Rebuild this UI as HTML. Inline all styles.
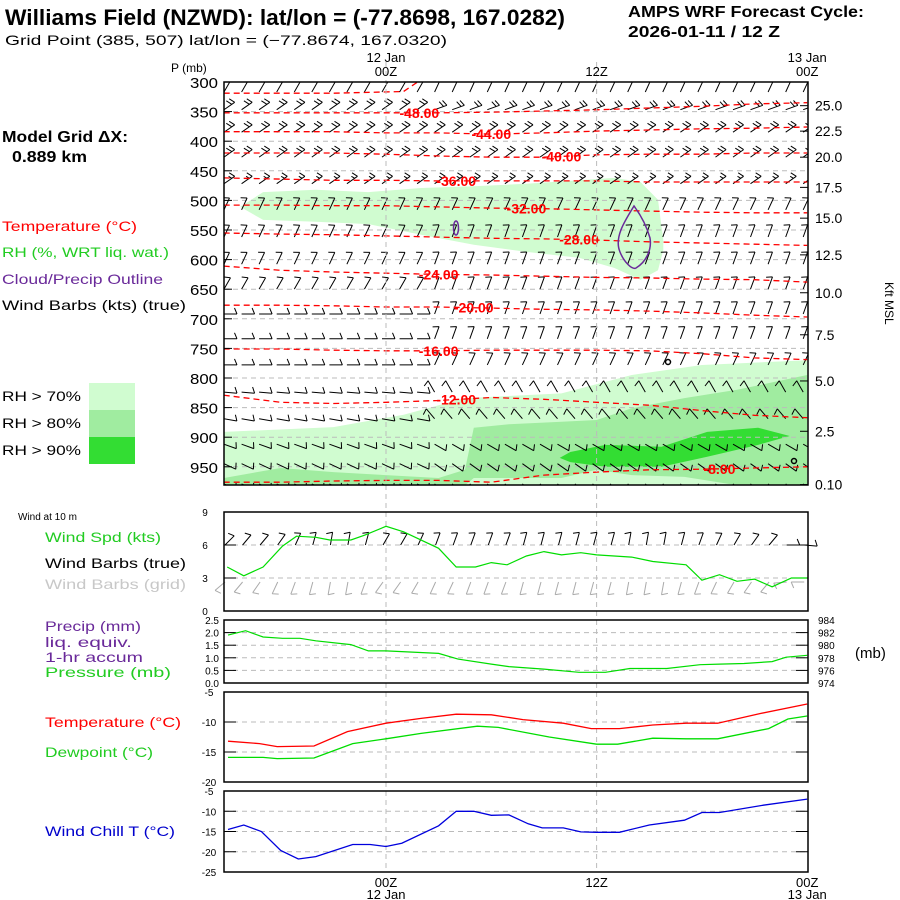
<!DOCTYPE html>
<html><head><meta charset="utf-8"><title>AMPS Meteogram Williams Field</title>
<style>
html,body{margin:0;padding:0;background:#fff;}
svg{display:block;font-family:"Liberation Sans","DejaVu Sans",sans-serif;}
</style></head>
<body>
<svg id="chart" width="900" height="900" viewBox="0 0 900 900" xmlns="http://www.w3.org/2000/svg">
<rect width="900" height="900" fill="#fff"/>
<text x="5" y="25" font-size="22" font-weight="bold" textLength="560" lengthAdjust="spacingAndGlyphs">Williams Field (NZWD):  lat/lon = (-77.8698, 167.0282)</text>
<text x="5" y="45" font-size="14" textLength="442" lengthAdjust="spacingAndGlyphs">Grid Point (385, 507) lat/lon = (−77.8674, 167.0320)</text>
<text x="628" y="17" font-size="16" font-weight="bold" textLength="236" lengthAdjust="spacingAndGlyphs">AMPS WRF Forecast Cycle:</text>
<text x="628" y="37" font-size="16" font-weight="bold" textLength="152" lengthAdjust="spacingAndGlyphs">2026-01-11 / 12  Z</text>
<text x="2" y="142" font-size="16" font-weight="bold" textLength="126" lengthAdjust="spacingAndGlyphs">Model Grid ΔX:</text>
<text x="12" y="162" font-size="16" font-weight="bold" textLength="75" lengthAdjust="spacingAndGlyphs">0.889 km</text>
<text x="2" y="231" font-size="14" fill="#ff0000" textLength="135" lengthAdjust="spacingAndGlyphs">Temperature (°C)</text>
<text x="2" y="257" font-size="14" fill="#22cc22" textLength="167" lengthAdjust="spacingAndGlyphs">RH (%, WRT liq. wat.)</text>
<text x="2" y="284" font-size="14" fill="#6a2a9a" textLength="161" lengthAdjust="spacingAndGlyphs">Cloud/Precip Outline</text>
<text x="2" y="310" font-size="14" textLength="184" lengthAdjust="spacingAndGlyphs">Wind Barbs (kts) (true)</text>
<rect x="89" y="383" width="46" height="27" fill="#d0fcd0"/>
<rect x="89" y="410" width="46" height="27" fill="#a0eca0"/>
<rect x="89" y="437" width="46" height="27" fill="#33dd33"/>
<text x="2" y="401" font-size="14" textLength="79" lengthAdjust="spacingAndGlyphs">RH &gt; 70%</text>
<text x="2" y="428" font-size="14" textLength="79" lengthAdjust="spacingAndGlyphs">RH &gt; 80%</text>
<text x="2" y="455" font-size="14" textLength="79" lengthAdjust="spacingAndGlyphs">RH &gt; 90%</text>
<text x="18" y="520" font-size="10">Wind at 10 m</text>
<text x="45" y="542" font-size="14" fill="#22cc22" textLength="116" lengthAdjust="spacingAndGlyphs">Wind Spd (kts)</text>
<text x="45" y="568" font-size="14" textLength="141" lengthAdjust="spacingAndGlyphs">Wind Barbs (true)</text>
<text x="45" y="589" font-size="14" fill="#c8c8c8" textLength="141" lengthAdjust="spacingAndGlyphs">Wind Barbs (grid)</text>
<text x="45" y="631" font-size="14" fill="#6a2a9a" textLength="96" lengthAdjust="spacingAndGlyphs">Precip (mm)</text>
<text x="45" y="647" font-size="14" fill="#6a2a9a" textLength="87" lengthAdjust="spacingAndGlyphs">liq. equiv.</text>
<text x="45" y="662" font-size="14" fill="#6a2a9a" textLength="98" lengthAdjust="spacingAndGlyphs">1-hr accum</text>
<text x="45" y="677" font-size="14" fill="#22cc22" textLength="126" lengthAdjust="spacingAndGlyphs">Pressure (mb)</text>
<text x="45" y="727" font-size="14" fill="#ff0000" textLength="136" lengthAdjust="spacingAndGlyphs">Temperature (°C)</text>
<text x="45" y="757" font-size="14" fill="#22cc22" textLength="108" lengthAdjust="spacingAndGlyphs">Dewpoint (°C)</text>
<text x="45" y="836" font-size="14" fill="#0000cc" textLength="130" lengthAdjust="spacingAndGlyphs">Wind Chill T (°C)</text>
<text x="171" y="72" font-size="12">P (mb)</text>
<text x="855" y="658" font-size="15">(mb)</text>
<text transform="translate(885,282) rotate(90)" font-size="12">Kft MSL</text>
<g id="layer"></g>
</svg>
<script>
// ---------- data ----------
const pLevels = [300,350,400,450,500,550,600,650,700,750,800,850,900,950];
const kftTicks = ["25.0","22.5","20.0","17.5","15.0","12.5","10.0","7.5","5.0","2.5","0.10"];
const kftTickP = [340,383,427,478,530,592,656,727,805,890,980];
const isoTimes = [-9.25,-6,-3,0,3,6,9,12,15,18,21,24];
const isoValues = [-48,-44,-40,-36,-32,-28,-24,-20,-16,-12,-8];
const iso48 = [352,352,352,352,352,351,349,347,344,341,337,335];
const iso44 = [384,384,384,386,386,388,386,383,381,379,378,376];
const iso40 = [420,420,420,422,425,427,427,423,422,422,420,420];
const iso36 = [462,464,466,466,467,467,467,467,469,469,469,469];
const iso32 = [508,508,509,509,511,513,514,516,518,520,521,521];
const iso28 = [555,557,558,560,562,564,565,567,570,572,574,576];
const iso24 = [611,618,621,623,625,626,628,630,631,633,634,638];
const iso20 = [677,677,678,680,680,682,684,685,687,690,694,697];
const iso16 = [751,751,753,754,754,753,753,753,754,759,766,769];
const iso12 = [829,841,843,841,838,833,836,841,846,855,863,867];
const iso8  = [976,976,974,973,973,976,964,959,955,954,952,950];
const iso52Times = [-9.25,-3,1,1.8];
const iso52 = [319,319,316,300];
const isoLabelT = [1.9,6,10,4,8,11,3,5,3,4,19];
const rhUpperTimes = [-8.3,-7,-4,-1,2,5,8,11,13,14.5,15.5,15.8];
const rhUpperTop = [511,486,482,486,479,476,472,466,462,469,499,567];
const rhUpperBot = [511,533,536,540,558,575,587,597,614,634,618,584];
const rhLowTimes = [-9.25,-3,1,4.5,10,14,18,24];
const rhLowTop = [891,883,862,834,826,795,778,770];
const rh80Times = [-9.25,-6,-3,0,3,4.5,5,7,10,12,14,17,20,24];
const rh80Top = [969,952,959,964,969,955,884,878,874,871,851,834,820,795];
const rh80Bot = [981,981,981,981,981,981,969,969,969,955,964,967,981,981];
const rh90Times = [9.9,10.5,12.5,15.7,18.3,21.2,23];
const rh90Top = [935,925,913,916,891,884,898];
const rh90Bot = [935,942,950,950,933,913,898];
const barbRowP = [305,335,373,415,460,504,550,596,638,680,722,766,812,857,900,933,967];
const barbDirEarly = [30,55,55,55,55,25,25,25,30,90,90,90,95,100,110,115,115];
const barbDirLate  = [25,70,55,55,55,25,20,20,20,20,20,25,330,320,120,125,135];
const barbSpdRow   = [10,20,20,20,15,10,10,10,10,10,10,10,10,10,10,10,10];
const hours = [-9,-8,-7,-6,-5,-4,-3,-2,-1,0,1,2,3,4,5,6,7,8,9,10,11,12,13,14,15,16,17,18,19,20,21,22,23,24];
const wsTimes = [-9.05,-8.1,-7,-5.9,-5.1,-4,-3.2,-2,-1.2,0,1,3,4,5.1,6,6.9,8,9,10,11.1,12,14,15.2,17.1,18,19,20,21,22,23.1,24];
const windSpd = [4.0,3.2,4.0,5.9,6.8,6.7,6.45,6.45,6.9,7.7,7.2,5.7,4.0,4.0,4.4,4.2,5.0,5.4,5.1,5.3,5.1,4.9,4.5,4.2,2.8,3.3,2.7,2.9,2.2,3.0,3.0];
const sfcDirTrue = [45,40,40,35,25,15,10,10,15,30,30,25,20,20,20,20,20,15,15,15,15,15,15,10,10,10,15,20,25,30,35,40,90,95];
const sfcDirGrid = [230,220,215,205,200,195,190,190,200,215,215,210,205,205,200,200,200,195,195,195,195,195,195,190,190,190,195,200,205,210,215,220,265,270];
const presTimes = [-9,-8,-7,-5.9,-4.9,-4,-2,-1,0,3,4.1,6,7,9,11,12,12.5,13.9,16,17.9,19,20.4,22,22.8,24];
const presVals = [981.6,982.3,981.3,981.1,981.1,980.7,980.1,979.1,979.1,978.7,977.8,977.0,976.6,976.2,975.7,975.7,975.7,976.3,976.3,976.9,977.0,977.1,977.4,978.1,978.4];
const tempTimes = [-9,-7.2,-6.2,-4.1,-2.2,0,2,4,6,7.8,10.1,11.7,13.3,15.2,17.1,18.9,21.3,24];
const tempVals = [-13.2,-13.6,-14.1,-14.0,-11.6,-10.2,-9.4,-8.7,-8.8,-9.6,-10.2,-11.1,-11.1,-10.5,-10.2,-10.2,-8.6,-7.0];
const dewTimes = [-9,-7,-6.2,-4.1,-1.9,0,2,5.2,6.4,9.3,12,13.2,15.2,17.1,18.9,21.8,22.9,24];
const dewVals = [-15.9,-15.9,-16.1,-16.0,-13.6,-12.8,-11.9,-10.7,-10.9,-12.5,-13.7,-13.7,-12.7,-12.8,-12.8,-11.1,-9.5,-9.0];
const wcTimes = [-9,-8.1,-7.1,-6,-5,-4,-1.9,-0.9,0,0.9,3,4,5,6.0,7,8.1,8.9,10.1,11.1,12,13.3,15,17,18,19,21.5,24];
const wcVals = [-14.5,-13.4,-15.0,-19.7,-21.8,-21.2,-18.2,-18.2,-18.7,-17.9,-13.6,-10.0,-10.0,-11.0,-10.9,-13.1,-14.1,-14.1,-15.1,-15.2,-15.2,-13.4,-12.2,-10.3,-10.3,-8.5,-7.0];
const windTicks = ["9","6","3","0"];
const windTickV = [9,6,3,0];
const precipTicks = ["2.5","2.0","1.5","1.0","0.5","0.0"];
const presTicks = ["984","982","980","978","976","974"];
const presTickV = [984,982,980,978,976,974];
const tempTickV = [-5,-10,-15,-20];
const wcTickV = [-5,-10,-15,-20,-25];

// ---------- scales ----------
const X = t => 386 + t*17.55;
const YP = p => 82 + (p-300)*0.592;
const YW = v => 611 - 11*v;
const YPR = mb => 683 - 6.3*(mb-974);
const YT = T => 692 + 6*(-5-T);
const YC = T => 791 + 4.05*(-5-T);
const NS = "http://www.w3.org/2000/svg";
const layer = document.getElementById('layer');
function mk(tag, attrs, parent){ const e=document.createElementNS(NS,tag); for(const k in attrs) e.setAttribute(k,attrs[k]); (parent||layer).appendChild(e); return e; }
function txt(x,y,s,size,fill,anchor,parent){ const e=mk('text',{x:x,y:y,'font-size':size,fill:fill||'#000','text-anchor':anchor||'start'},parent); e.textContent=s; return e; }
function pathFrom(ts, vs, fx, fy){ return ts.map((t,i)=>(i?'L':'M')+fx(t).toFixed(1)+' '+fy(vs[i]).toFixed(1)).join(' '); }

const defs = mk('defs',{});
const cp = mk('clipPath',{id:'mainclip'},defs);
mk('rect',{x:224,y:82,width:584,height:403},cp);
const mainG = mk('g',{'clip-path':'url(#mainclip)'});



function band(ts, top, bot, color, name){
  let d = ts.map((t,i)=>(i?'L':'M')+X(t).toFixed(1)+' '+YP(top[i]).toFixed(1)).join(' ');
  for(let i=ts.length-1;i>=0;i--) d += ' L'+X(ts[i]).toFixed(1)+' '+YP(bot[i]).toFixed(1);
  const e = mk('path',{d:d+' Z',fill:color,stroke:'none'},mainG);
  
  
}
band(rhUpperTimes, rhUpperTop, rhUpperBot, '#d0fcd0', 'rh70-upper-area');
band(rhLowTimes, rhLowTop, rhLowTimes.map(()=>985), '#d0fcd0', 'rh70-lower-area');
band(rh80Times, rh80Top, rh80Bot, '#a0eca0', 'rh80-area');
band(rh90Times, rh90Top, rh90Bot, '#33dd33', 'rh90-area');

pLevels.forEach(p=>{
  const g = mk('line',{x1:224,x2:808,y1:YP(p),y2:YP(p),stroke:'#bbb','stroke-dasharray':'5,4','stroke-width':1},mainG);
  
  
});
[0,12].forEach(t=>{
  const g = mk('line',{x1:X(t),x2:X(t),y1:62,y2:872,stroke:'#bbb','stroke-dasharray':'5,4','stroke-width':1});
  
  
});

const isoSeries = [iso48,iso44,iso40,iso36,iso32,iso28,iso24,iso20,iso16,iso12,iso8];
function interp(ts, vs, t){ for(let i=0;i<ts.length-1;i++){ if(t>=ts[i]&&t<=ts[i+1]){ const f=(t-ts[i])/(ts[i+1]-ts[i]); return vs[i]+f*(vs[i+1]-vs[i]); } } return vs[vs.length-1]; }
const l52 = mk('path',{d:pathFrom(iso52Times,iso52,X,YP),fill:'none',stroke:'#ff0000','stroke-width':1.3,'stroke-dasharray':'6,4'},mainG);



function barb(parent, x, y, dir, spd, color, len){
  const r = dir*Math.PI/180, ux=Math.sin(r), uy=-Math.cos(r);
  const tx=x+ux*len, ty=y+uy*len;
  let d = 'M'+x.toFixed(1)+' '+y.toFixed(1)+' L'+tx.toFixed(1)+' '+ty.toFixed(1);
  const px=uy, py=-ux; let n=Math.floor(spd/10), half=(spd%10)>=5;
  let pos=0;
  for(let i=0;i<n;i++){ const bx=tx-ux*pos, by=ty-uy*pos; d+=' M'+bx.toFixed(1)+' '+by.toFixed(1)+' L'+(bx+px*6-ux*2.5).toFixed(1)+' '+(by+py*6-uy*2.5).toFixed(1); pos+=3.5; }
  if(half){ const bx=tx-ux*pos, by=ty-uy*pos; d+=' M'+bx.toFixed(1)+' '+by.toFixed(1)+' L'+(bx+px*3.5-ux*1.5).toFixed(1)+' '+(by+py*3.5-uy*1.5).toFixed(1); }
  return mk('path',{d:d,stroke:color,'stroke-width':1,fill:'none'},parent);
}
barbRowP.forEach((p,ri)=>{
  hours.forEach(t=>{
    const dir = t<3 ? barbDirEarly[ri] : barbDirLate[ri];
    const e = barb(mainG, X(t)-4, YP(p)+7, dir, barbSpdRow[ri], '#000', 13);
    
    
  });
});

isoSeries.forEach((s,k)=>{
  const e = mk('path',{d:pathFrom(isoTimes,s,X,YP),fill:'none',stroke:'#ff0000','stroke-width':1.3,'stroke-dasharray':'6,4'},mainG);
  
  
  const lt = isoLabelT[k];
  const lab = txt(X(lt), YP(interp(isoTimes,s,lt))+5, isoValues[k].toFixed(2), 14, '#ff0000','middle', mainG);
  lab.setAttribute('font-weight','bold');
  
  
});

const c1 = mk('ellipse',{cx:456,cy:228,rx:2.5,ry:7,fill:'none',stroke:'#6a2a9a','stroke-width':1.5},mainG);


const c2 = mk('path',{d:'M634 206 C624 222 614 238 620 252 C624 262 632 270 636 268 C646 262 652 250 650 238 C646 224 640 214 634 206 Z',fill:'none',stroke:'#6a2a9a','stroke-width':1.5},mainG);


[[668,362],[794,461]].forEach(c=>{ const e=mk('circle',{cx:c[0],cy:c[1],r:2.5,fill:'none',stroke:'#000','stroke-width':1.5},mainG);   });

const mf = mk('rect',{x:224,y:82,width:584,height:403,fill:'none',stroke:'#000','stroke-width':1.5});


pLevels.forEach(p=>{
  const y=YP(p);
  mk('line',{x1:224,x2:232,y1:y,y2:y,stroke:'#000'});
  const e = txt(190,y+6,String(p),15,'#000','start');
  e.setAttribute('textLength','28');
  e.setAttribute('lengthAdjust','spacingAndGlyphs');
  
  
});
kftTicks.forEach((s,i)=>{
  const y=YP(kftTickP[i]);
  mk('line',{x1:800,x2:808,y1:y,y2:y,stroke:'#000'});
  const e = txt(815,y+5,s,14,'#000','start');
  
  
});
[[0,'12 Jan','00Z'],[12,'','12Z'],[24,'13 Jan','00Z']].forEach(a=>{
  if(a[1]){ const e=txt(X(a[0]),62,a[1],13,'#000','middle');   }
  const e2=txt(X(a[0]),76,a[2],13,'#000','middle');  
  const e3=txt(X(a[0]),887,a[2],13,'#000','middle');  
  if(a[1]){ const e4=txt(X(a[0]),899,a[1],13,'#000','middle');   }
});

function panel(y0,y1,name){
  const e = mk('rect',{x:224,y:y0,width:584,height:y1-y0,fill:'none',stroke:'#000','stroke-width':1.5});
  
  
}
function hgrid(y, ticks){
  const e = mk('line',{x1:224,x2:808,y1:y,y2:y,stroke:'#bbb','stroke-dasharray':'5,4'});
  
  
  if(ticks){ mk('line',{x1:224,x2:236,y1:y,y2:y,stroke:'#000'}); mk('line',{x1:796,x2:808,y1:y,y2:y,stroke:'#000'}); }
}
windTickV.forEach((v,i)=>{ if(v>0&&v<9) hgrid(YW(v),true); const e=txt(205,YW(v)+4,windTicks[i],10,'#000','middle');   });
hours.forEach((t,i)=>{
  const e = barb(layer, X(t)-3, 545, sfcDirTrue[i], 10, '#000', 13);
  
  
  const g = barb(layer, X(t)-3, 582, sfcDirGrid[i], 10, '#aaa', 13);
  
  
});
const ws = mk('path',{d:pathFrom(wsTimes,windSpd,X,YW),fill:'none',stroke:'#00dd00','stroke-width':1.2});


panel(512,611,'wind-panel-frame');
presTickV.forEach((v,i)=>{
  if(v>974&&v<984) hgrid(YPR(v),true);
  const e=txt(818,YPR(v)+4,presTicks[i],10,'#000','start');  
  const e2=txt(219,YPR(v)+4,precipTicks[i],10,'#000','end');  
});
const pr = mk('path',{d:pathFrom(presTimes,presVals,X,YPR),fill:'none',stroke:'#00dd00','stroke-width':1.2});


panel(620,683,'pressure-panel-frame');
tempTickV.forEach(v=>{ if(v<-5&&v>-20) hgrid(YT(v),true); const e=txt(209,YT(v)+4,String(v),10,'#000','middle');   });
const tl = mk('path',{d:pathFrom(tempTimes,tempVals,X,YT),fill:'none',stroke:'#ff0000','stroke-width':1.3});


const dl = mk('path',{d:pathFrom(dewTimes,dewVals,X,YT),fill:'none',stroke:'#00dd00','stroke-width':1.3});


panel(692,782,'temp-panel-frame');
wcTickV.forEach(v=>{ if(v<-5&&v>-25) hgrid(YC(v),true); const e=txt(209,YC(v)+4,String(v),10,'#000','middle');   });
const wl = mk('path',{d:pathFrom(wcTimes,wcVals,X,YC),fill:'none',stroke:'#0000dd','stroke-width':1.3});


panel(791,872,'windchill-panel-frame');
</script>
</body></html>
